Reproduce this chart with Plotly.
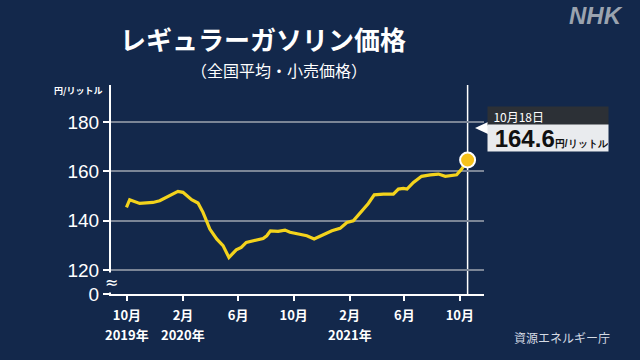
import plotly.graph_objects as go

# ---- data ----
dates = ["2019-09-30", "2019-10-07", "2019-10-29", "2019-11-27", "2019-12-12",
         "2020-01-03", "2020-01-21", "2020-02-01", "2020-02-20", "2020-03-05",
         "2020-03-16", "2020-03-31", "2020-04-15", "2020-04-29", "2020-05-12",
         "2020-05-28", "2020-06-08", "2020-06-19", "2020-07-07", "2020-07-26",
         "2020-08-03", "2020-08-11", "2020-08-28", "2020-09-12", "2020-09-23",
         "2020-10-15", "2020-10-30", "2020-11-15", "2020-12-05", "2020-12-24",
         "2021-01-11", "2021-01-26", "2021-02-09", "2021-03-03", "2021-03-14",
         "2021-03-27", "2021-04-16", "2021-05-08", "2021-05-19", "2021-05-30",
         "2021-06-07", "2021-06-21", "2021-07-09", "2021-07-28", "2021-08-15",
         "2021-08-30", "2021-09-24", "2021-10-05", "2021-10-18"]
prices = [145.4, 148.5, 147.0, 147.4, 148.1,
          150.1, 151.9, 151.5, 148.5, 147.2,
          143.4, 136.6, 132.6, 129.9, 125.1,
          128.2, 129.2, 131.2, 131.9, 132.8,
          133.9, 135.9, 135.7, 136.2, 135.3,
          134.3, 133.9, 132.6, 134.3, 135.9,
          136.9, 139.3, 140.0, 144.7, 147.0,
          150.5, 150.8, 150.8, 152.8, 153.1,
          152.8, 155.5, 158.0, 158.6, 158.9,
          158.0, 158.6, 160.9, 164.6]

x_tickvals = ["2019-10-01", "2020-02-01", "2020-06-01", "2020-10-01",
              "2021-02-01", "2021-06-01", "2021-10-01"]
x_ticktext = ["10月", "2月", "6月", "10月", "2月", "6月", "10月"]
year_dates = ["2019-10-01", "2020-02-01", "2021-02-01"]
year_labels = ["2019年", "2020年", "2021年"]
y_break_value = 110.3   # value drawn at the baseline, labelled "0"
y_tickvals = [y_break_value, 120, 140, 160, 180]
y_ticktext = ["0", "120", "140", "160", "180"]

latest_date = dates[-1]
latest_value = prices[-1]

BG = "#13284b"
LINE = "#f3d31c"

# plot area geometry in pixels (for paper conversions)
L, R, T, B = 111, 484, 85, 294
def px(xp):
    return (xp - L) / (R - L)
def py(yp):
    return (B - yp) / (B - T)

fig = go.Figure()
fig.add_trace(go.Scatter(x=dates, y=prices, mode="lines",
                         line=dict(color=LINE, width=3.2, shape="linear"),
                         hoverinfo="skip", showlegend=False))
fig.add_trace(go.Scatter(x=[latest_date], y=[latest_value], mode="markers",
                         marker=dict(size=15, color="#f7c21a",
                                     line=dict(color="white", width=2)),
                         hoverinfo="skip", showlegend=False))

fig.update_layout(
    width=640, height=360,
    margin=dict(l=L, r=640 - R, t=T, b=360 - B),
    paper_bgcolor=BG, plot_bgcolor=BG,
    font=dict(family="Noto Sans CJK JP", color="white"),
    xaxis=dict(
        type="date", range=["2019-08-27", "2021-11-23"],
        tickvals=x_tickvals, ticktext=[f"<b>{t}</b>" for t in x_ticktext],
        showgrid=False, zeroline=False,
        showline=True, linecolor="white", linewidth=2,
        ticks="outside", ticklen=5, tickwidth=1.5, tickcolor="white",
        ticklabelstandoff=3,
        tickfont=dict(size=13, color="white", family="Noto Sans CJK JP"),
    ),
    yaxis=dict(
        range=[y_break_value, 195], tickvals=y_tickvals, ticktext=y_ticktext,
        showgrid=True, gridcolor="#7b8596", gridwidth=1.5,
        zeroline=False, showline=True, linecolor="white", linewidth=2,
        ticks="outside", ticklen=6, tickwidth=1.5, tickcolor="white",
        tickfont=dict(size=19, color="white", family="Liberation Sans, Arial"),
    ),
)

# vertical line at latest date
fig.add_shape(type="line", xref="x", yref="paper", x0=latest_date, x1=latest_date,
              y0=0, y1=1, line=dict(color="white", width=1.5), layer="below")

# pointer triangle
fig.add_shape(type="path", xref="paper", yref="paper",
              path=f"M {px(475)},{py(128)} L {px(488)},{py(122)} L {px(488)},{py(134)} Z",
              fillcolor="white", line=dict(width=0))

def note(text, x, y, size, color="white", family="Noto Sans CJK JP", **kw):
    d = dict(text=text, x=x, y=y, xref="paper", yref="paper", showarrow=False,
             xanchor="center", yanchor="middle",
             font=dict(size=size, color=color, family=family))
    d.update(kw)
    return d

ann = []
ann.append(note("<b>レギュラーガソリン価格</b>", px(263), py(39), 26))
ann.append(note("（全国平均・小売価格）", px(279), py(70), 16))
ann.append(note("<b>円/リットル</b>", px(104), py(90), 9, xanchor="right"))
ann.append(dict(text="≈", x=0, xref="paper", y=114.8, yref="y", showarrow=False,
                xanchor="center", yanchor="middle",
                bgcolor=BG, borderpad=0,
                font=dict(size=16, color="white", family="DejaVu Sans")))
for d, lab in zip(year_dates, year_labels):
    ann.append(dict(text=f"<b>{lab}</b>", x=d, xref="x", y=py(334), yref="paper",
                    showarrow=False, xanchor="center", yanchor="middle",
                    font=dict(size=13, color="white", family="Noto Sans CJK JP")))
# header box
ann.append(note("&nbsp;&nbsp;10月18日", px(486.5), py(106), 12, xanchor="left", yanchor="top",
                width=120, height=18, borderpad=0, align="left", bgcolor="#2c3036"))
# value box
ann.append(note("&nbsp;<b>164.6</b><span style='font-size:10px'><b>円/リットル</b></span>",
                px(486.5), py(124), 24, color="#111111", family="Liberation Sans, Arial",
                xanchor="left", yanchor="top", width=120, height=26, borderpad=0,
                align="left", bgcolor="#e9ebee"))
ann.append(note("資源エネルギー庁", px(562), py(337), 12, color="#d5dbe4"))
ann.append(note("<b><i>NHK</i></b>", px(596), py(16), 24, color="#9aa3af",
                family="Liberation Sans, Arial"))
fig.update_layout(annotations=ann)

fig.write_html("out.html", config={"displayModeBar": False},
               post_script="document.body.style.margin='0';")
